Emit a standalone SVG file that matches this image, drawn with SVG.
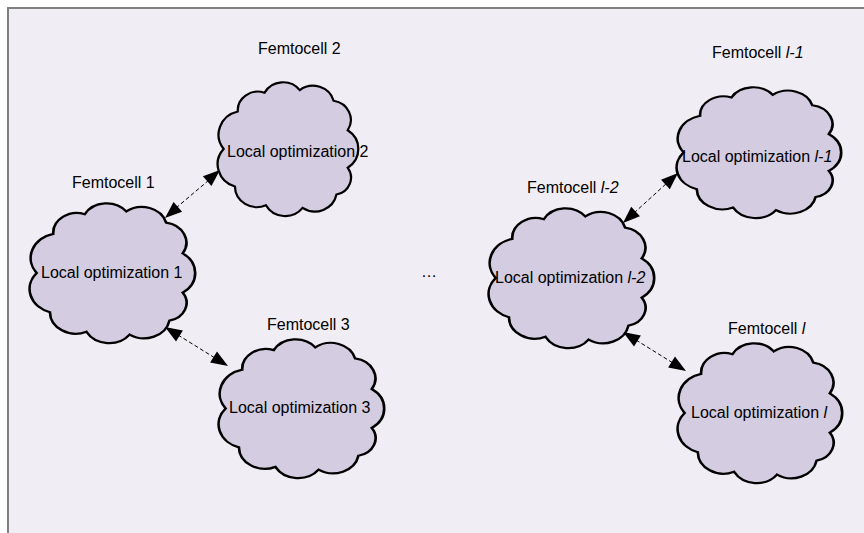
<svg xmlns="http://www.w3.org/2000/svg" xmlns:xlink="http://www.w3.org/1999/xlink" width="864" height="533" viewBox="0 0 864 533">
<style>
.cloud{fill:#d4cce0;stroke:#000;stroke-width:1.6;vector-effect:non-scaling-stroke}
text{font-family:"Liberation Sans",Arial,sans-serif;font-size:16px;fill:#000}
.it{font-style:italic}
.conn{stroke:#000;stroke-width:1;stroke-dasharray:4 2.5;fill:none}
.ah{fill:#000}
</style>
<defs>
<path id="cloudpath" d="M14,22 A14.2,14.2 0 0 1 33,8 A15,15 0 0 1 58,6 A15.2,15.2 0 0 1 82,14 A14.5,14.5 0 0 1 92,36 A16.8,16.8 0 0 1 92,64 A12.9,12.9 0 0 1 84,84 A15.6,15.6 0 0 1 60,94 A15.6,15.6 0 0 1 34,92 A15.6,15.6 0 0 1 12,78 A17.4,17.4 0 0 1 4,50 A17.8,17.8 0 0 1 14,22 Z"/>
<path id="head" d="M0,0 L-17,-6.5 L-17,6.5 Z"/>
</defs>
<rect x="0" y="0" width="864" height="533" fill="#ffffff"/>
<rect x="8" y="8" width="880" height="560" fill="#f0eef4" stroke="#808080" stroke-width="2"/>
<g id="connectors">
<line class="conn" x1="176" y1="208" x2="209" y2="180"/>
<use xlink:href="#head" class="ah" transform="translate(220,170) rotate(-41.1)"/>
<use xlink:href="#head" class="ah" transform="translate(165,218) rotate(138.9)"/>
<line class="conn" x1="178" y1="335" x2="215" y2="358"/>
<use xlink:href="#head" class="ah" transform="translate(228,366) rotate(31.8)"/>
<use xlink:href="#head" class="ah" transform="translate(165,327) rotate(211.8)"/>
<line class="conn" x1="634" y1="213" x2="667" y2="183"/>
<use xlink:href="#head" class="ah" transform="translate(678,173) rotate(-42.3)"/>
<use xlink:href="#head" class="ah" transform="translate(623,223) rotate(137.7)"/>
<line class="conn" x1="636" y1="340" x2="673" y2="363"/>
<use xlink:href="#head" class="ah" transform="translate(686,371) rotate(31.8)"/>
<use xlink:href="#head" class="ah" transform="translate(623,332) rotate(211.8)"/>
</g>
<g id="femtocell1">
<use xlink:href="#cloudpath" class="cloud" transform="translate(30,203) scale(1.66,1.40)"/>
<text x="72" y="188">Femtocell 1</text>
<text x="41" y="278">Local optimization 1</text>
</g>
<g id="femtocell2">
<use xlink:href="#cloudpath" class="cloud" transform="translate(218,82) scale(1.41,1.34)"/>
<text x="258" y="54">Femtocell 2</text>
<text x="227" y="157">Local optimization 2</text>
</g>
<g id="femtocell3">
<use xlink:href="#cloudpath" class="cloud" transform="translate(219,339) scale(1.66,1.39)"/>
<text x="267" y="330">Femtocell 3</text>
<text x="229" y="413">Local optimization 3</text>
</g>
<g id="femtocell-l2">
<use xlink:href="#cloudpath" class="cloud" transform="translate(489,208) scale(1.66,1.40)"/>
<text x="527" y="193">Femtocell <tspan class="it">l-2</tspan></text>
<text x="495" y="283">Local optimization <tspan class="it">l-2</tspan></text>
</g>
<g id="femtocell-l1">
<use xlink:href="#cloudpath" class="cloud" transform="translate(677,87) scale(1.65,1.31)"/>
<text x="712" y="58">Femtocell <tspan class="it">l-1</tspan></text>
<text x="682" y="162">Local optimization <tspan class="it">l-1</tspan></text>
</g>
<g id="femtocell-l">
<use xlink:href="#cloudpath" class="cloud" transform="translate(678,343) scale(1.65,1.40)"/>
<text x="728" y="334">Femtocell <tspan class="it">l</tspan></text>
<text x="691" y="418">Local optimization <tspan class="it">l</tspan></text>
</g>
<g id="ellipsis">
<text x="421" y="277" style="font-size:16px">…</text>
</g>
</svg>
